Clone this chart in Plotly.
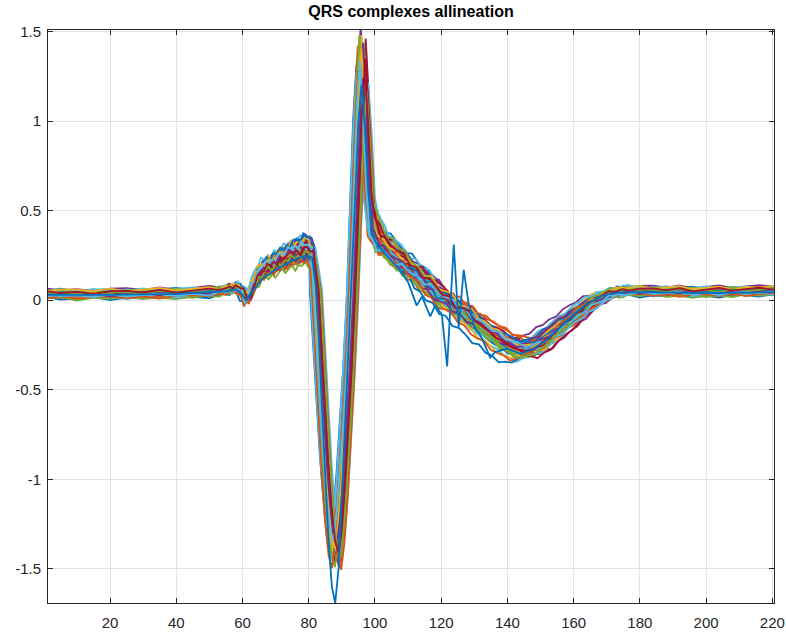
import plotly.graph_objects as go

# Template beat (sample index, amplitude)
tmpl_x = [0, 5, 10, 15, 20, 25, 30, 35, 40, 45, 50, 53, 55,
          56, 57, 58, 59, 60, 61, 62, 63, 64, 65, 66, 67, 68, 69, 70, 71, 72, 73, 74, 75, 76, 77, 78, 79, 80, 81,
          82, 83, 84, 85, 86, 87, 88, 89, 90, 91, 92, 93, 94, 95, 96, 97, 98, 99,
          100, 101, 102, 104, 106, 108, 110, 112, 114, 116, 118, 120, 122, 124, 126, 128, 130, 132, 134, 136,
          138, 140, 142, 144, 146, 148, 150, 152, 154, 156, 158, 160, 162, 164, 166, 168, 170, 172, 174, 176,
          180, 184, 188, 192, 196, 200, 204, 208, 212, 216, 222]
tmpl_y = [0.03, 0.03, 0.028, 0.03, 0.03, 0.031, 0.032, 0.033, 0.035, 0.037, 0.04, 0.047, 0.052,
          0.055, 0.06, 0.065, 0.055, 0.035, 0.0, 0.02, 0.07, 0.11, 0.14, 0.16, 0.17, 0.18, 0.19, 0.2, 0.21, 0.22, 0.23, 0.24, 0.25, 0.255, 0.26, 0.27, 0.27, 0.265, 0.24,
          0.05, -0.3, -0.65, -0.95, -1.2, -1.38, -1.45, -1.3, -1.05, -0.75, -0.4, 0.0, 0.5, 1.0, 1.3, 1.0, 0.6, 0.42,
          0.37, 0.33, 0.31, 0.28, 0.24, 0.21, 0.18, 0.15, 0.12, 0.09, 0.05, 0.02, -0.01, -0.04, -0.06, -0.09, -0.12, -0.15, -0.18, -0.2,
          -0.23, -0.25, -0.27, -0.28, -0.275, -0.26, -0.24, -0.21, -0.18, -0.15, -0.12, -0.09, -0.06, -0.03, -0.01, 0.01, 0.025, 0.035, 0.04, 0.045,
          0.045, 0.045, 0.044, 0.043, 0.042, 0.042, 0.043, 0.044, 0.045, 0.047, 0.05]

# Per-beat variation read from the spread of the bundle
shift = [-0.4, 0.3, -0.9, -0.3, -0.1, -1.3, 1.2, 0.4, -0.6, 0.1, 1.7, -1.0, 0.6, -0.2, -1.6, 1.0, -0.1,
         0.7, -0.7, 2.0, 0.2, -0.4, -1.2, 1.4, 0.1, 0.6, -0.9, 0.9, -0.2, 1.5, -0.6, 0.4, -0.1, -1.5,
         1.1, 0.2, 1.8, -0.4, 0.6, -0.7, 0.1, 1.2, 0.7, -1.0, -0.1, 0.4, 1.5, -0.6, 0.9]
r_peak = [1.25, 1.35, 1.2, 1.51, 1.15, 1.3, 1.45, 1.1, 1.28, 1.38, 1.05, 1.22, 1.42, 1.18, 1.33, 1.26, 1.48,
          1.12, 1.3, 1.2, 1.36, 1.24, 1.4, 1.08, 1.32, 1.45, 1.15, 1.27, 1.37, 1.2, 1.3, 1.43, 1.1, 1.25,
          1.35, 1.22, 1.18, 1.4, 1.28, 1.46, 1.2, 1.33, 1.14, 1.3, 1.38, 1.24, 1.16, 1.34, 1.28]
s_trough = [-1.4, -1.45, -1.35, -1.48, -1.3, -1.42, -1.5, -1.38, -1.44, -1.32, -1.46, -1.4, -1.36, -1.47, -1.3, -1.43, -1.39,
            -1.49, -1.34, -1.45, -1.41, -1.28, -1.46, -1.37, -1.43, -1.33, -1.48, -1.4, -1.35, -1.45, -1.42, -1.3, -1.47, -1.38,
            -1.44, -1.36, -1.5, -1.4, -1.32, -1.46, -1.39, -1.43, -1.35, -1.48, -1.41, -1.37, -1.45, -1.33, -1.42]
p_amp = [1.0, 1.2, 0.85, 1.1, 0.95, 1.25, 0.8, 1.05, 1.15, 0.9, 1.3, 1.0, 0.88, 1.18, 0.93, 1.08, 1.22,
         0.82, 1.0, 1.12, 0.95, 1.28, 0.87, 1.05, 1.15, 0.9, 1.2, 1.0, 0.85, 1.1, 0.97, 1.25, 0.8, 1.03,
         1.17, 0.92, 1.07, 1.2, 0.88, 1.0, 1.13, 0.95, 1.27, 0.86, 1.05, 1.1, 0.93, 1.18, 1.0]
t_amp = [1.0, 0.9, 1.1, 0.85, 1.05, 1.15, 0.95, 1.2, 0.88, 1.0, 1.08, 0.92, 1.12, 0.97, 1.18, 0.86, 1.03,
         1.1, 0.9, 1.15, 0.95, 1.05, 0.82, 1.12, 1.0, 0.93, 1.17, 0.88, 1.06, 0.98, 1.2, 0.9, 1.08, 0.95,
         1.14, 0.87, 1.02, 1.1, 0.92, 1.16, 0.96, 1.04, 0.89, 1.12, 1.0, 0.94, 1.18, 0.9, 1.07]
t_shift = [0, -2, 1, -3, 2, 0, -1, 1.5, -2.5, 0.5, 2, -1, 0, 1, -3, 2.5, -0.5,
           1, -2, 0.5, 1.5, -1.5, 3, 0, -2, 1, -0.5, 2, -1, 0.5, -2.5, 1.5, 0, -1,
           2, -1.5, 0.5, 1, -3, 0, 2.5, -0.5, 1, -2, 1.5, 0, -1, 2, -0.5]
b_off = [0.0, 0.01, -0.01, 0.02, 0.0, -0.015, 0.01, 0.025, -0.005, 0.015, 0.0, -0.01, 0.02, 0.005, -0.02, 0.01, 0.0,
         0.03, -0.01, 0.015, 0.005, -0.005, 0.02, 0.0, 0.01, -0.015, 0.025, 0.0, 0.01, -0.01, 0.015, 0.005, -0.02, 0.02,
         0.0, 0.01, -0.005, 0.015, 0.0, 0.02, -0.01, 0.005, 0.01, -0.015, 0.025, 0.0, 0.01, -0.005, 0.015]
# Small sample-to-sample ripple seen on the traces
ripple = [0.012, -0.008, 0.018, -0.015, 0.005, 0.02, -0.012, 0.0, 0.015, -0.02, 0.008, -0.005, 0.017, -0.01,
          0.003, -0.018, 0.011, 0.006, -0.014, 0.019, -0.003, 0.009, -0.016, 0.014, -0.007, 0.002, 0.016,
          -0.011, 0.007, -0.019, 0.01]

# Noisy outlier beat (blue)
out_x = [0, 20, 40, 55, 58, 60, 61, 63, 66, 70, 75, 79, 81, 82, 83, 84, 85, 86, 87, 88,
         89, 90, 91, 92, 93, 94, 95, 96, 97, 98, 99, 100, 103, 107, 110, 112.6, 114.2, 116.7, 118.2, 120.2,
         121.8, 123.8, 125.3, 126.8, 128.3, 130, 132, 134.8, 136.3, 140, 144, 148, 152, 156, 160, 164, 168, 172, 180, 200, 222]
out_y = [0.03, 0.03, 0.035, 0.05, 0.06, 0.03, 0.0, 0.05, 0.12, 0.17, 0.22, 0.25, 0.24, 0.1, -0.2, -0.6, -1.0, -1.35, -1.6, -1.69,
         -1.5, -1.1, -0.7, -0.3, 0.1, 0.55, 1.0, 1.2, 0.95, 0.6, 0.4, 0.33, 0.26, 0.18, 0.1, -0.03, 0.02, -0.09, -0.03, -0.08,
         -0.37, 0.31, -0.15, 0.17, -0.02, -0.15, -0.2, -0.32, -0.29, -0.27, -0.3, -0.27, -0.22, -0.15, -0.08, -0.02, 0.02, 0.04, 0.045, 0.04, 0.045]

x_ticks = [20, 40, 60, 80, 100, 120, 140, 160, 180, 200, 220]
y_ticks = [-1.5, -1, -0.5, 0, 0.5, 1, 1.5]
y_ticklabels = ["-1.5", "-1", "-0.5", "0", "0.5", "1", "1.5"]

colors = ["#0072BD", "#D95319", "#EDB120", "#7E2F8E", "#77AC30", "#4DBEEE", "#A2142F"]

fig = go.Figure()
params = zip(shift, r_peak, s_trough, p_amp, t_amp, t_shift, b_off)
nr = len(ripple)
for i, (sh, rp, st, pa, ta, ts, bo) in enumerate(params):
    xs, ys = [], []
    for k, (x, y) in enumerate(zip(tmpl_x, tmpl_y)):
        rip = ripple[(k + 7 * i) % nr]
        if 59 <= x <= 81:
            xx, yy = x + 0.5 * sh, y * pa + rip
        elif 81 < x < 98.5:
            xx = x + sh
            yy = y * (rp / 1.3) if y > 0 else y * (st / -1.45)
        elif 98.5 <= x <= 176:
            w = max(0.0, min(1.0, (x - 99.5) / 20.0, (176 - x) / 10.0))
            amp = 1.0 if x < 130 else 0.5
            xx, yy = x + sh + ts * w, y * ta + amp * rip
        else:
            xx, yy = x, y + 0.5 * rip
        xs.append(xx)
        ys.append(yy + bo)
    fig.add_trace(go.Scatter(x=xs, y=ys, mode="lines",
                             line=dict(color=colors[i % 7], width=1.8),
                             showlegend=False, hoverinfo="skip"))

fig.add_trace(go.Scatter(x=out_x, y=out_y, mode="lines",
                         line=dict(color=colors[0], width=1.8),
                         showlegend=False, hoverinfo="skip"))

axis_common = dict(showline=True, linecolor="#262626", linewidth=1, mirror="ticks",
                   ticks="inside", ticklen=5, tickcolor="#262626", automargin=False,
                   showgrid=True, gridcolor="#e3e3e3", gridwidth=1, zeroline=False,
                   tickfont=dict(family="Liberation Sans, Arial, sans-serif", size=15, color="#262626"))

fig.update_layout(
    width=786, height=633,
    margin=dict(l=48, r=12, t=30, b=30),
    plot_bgcolor="white", paper_bgcolor="white",
    title=dict(text="<b>QRS complexes allineation</b>", x=0.5, xref="paper", xanchor="center",
               y=1 - 11 / 633, yanchor="middle",
               font=dict(family="Liberation Sans, Arial, sans-serif", size=16, color="black")),
    xaxis=dict(range=[1.27, 220.5], tickvals=x_ticks, ticklabelstandoff=6, **axis_common),
    yaxis=dict(range=[-1.69, 1.508], tickvals=y_ticks, ticktext=y_ticklabels, ticklabelstandoff=3, **axis_common),
)

fig.write_html("out.html")
